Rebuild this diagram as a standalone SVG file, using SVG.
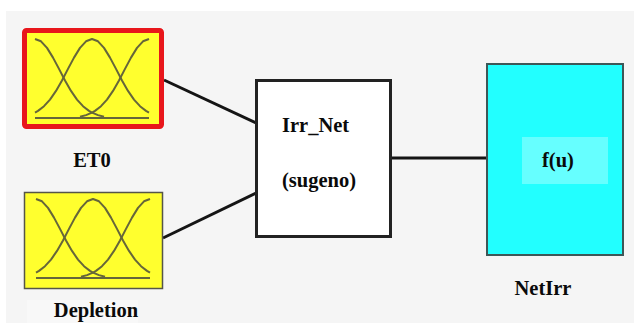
<svg xmlns="http://www.w3.org/2000/svg" width="634" height="323" viewBox="0 0 634 323">
<style>
.lbl{font-family:"Liberation Serif","Times New Roman",serif;font-weight:bold;font-size:20.5px;fill:#0a0a0a}
.mf{fill:none;stroke:#66663a;stroke-width:2;stroke-linejoin:round}
.conn{stroke:#151515;stroke-width:3;fill:none}
</style>
<defs>
<g id="mfs">
<path class="mf" d="M-57,-5.4 L-54,-7.1 L-48,-11.8 L-42,-18.4 L-36,-27.1 L-30,-37.5 L-24,-49.1 L-18,-60.4 L-12,-70.1 L-6,-76.7 L0,-79 L6,-76.7 L12,-70.1 L18,-60.4 L24,-49.1 L30,-37.5 L36,-27.1 L42,-18.4 L48,-11.8 L54,-7.1 L57,-5.4"/>
<path class="mf" d="M-57,-79 L-51,-76.7 L-45,-70.1 L-39,-60.4 L-33,-49.1 L-27,-37.5 L-21,-27.1 L-15,-18.4 L-9,-11.8 L-3,-7.1 L0,-5.4 L6,-2.9 L12,-1.3"/>
<path class="mf" d="M57,-79 L51,-76.7 L45,-70.1 L39,-60.4 L33,-49.1 L27,-37.5 L21,-27.1 L15,-18.4 L9,-11.8 L3,-7.1 L0,-5.4 L-6,-2.9 L-12,-1.3"/>
<path class="mf" d="M-57,0 L57,0" stroke-width="2.5"/>
</g>
</defs>
<rect x="0" y="0" width="634" height="323" fill="#ffffff"/>
<rect x="6" y="11" width="628" height="312" fill="#f5f5f5"/>
<rect x="27" y="300" width="111" height="23" fill="#f8f8f8"/>
<g id="connectors">
<line class="conn" x1="164" y1="80" x2="256" y2="123"/>
<line class="conn" x1="163" y1="238" x2="256" y2="193"/>
<line class="conn" x1="391" y1="158" x2="487" y2="158"/>
</g>
<g id="ET0">
<rect x="24.5" y="30.5" width="137" height="96" rx="2" fill="#ffff2e" stroke="#e8161b" stroke-width="5"/>
<use href="#mfs" transform="translate(92,118)"/>
<text class="lbl" x="92" y="167" text-anchor="middle">ET0</text>
</g>
<g id="Depletion">
<rect x="24.5" y="192.5" width="138" height="96" fill="#ffff2e" stroke="#555548" stroke-width="1.5"/>
<use href="#mfs" transform="translate(93,278)"/>
<text class="lbl" x="96" y="317" text-anchor="middle">Depletion</text>
</g>
<g id="Irr_Net">
<rect x="256.5" y="80.5" width="134" height="156" fill="#ffffff" stroke="#222222" stroke-width="3"/>
<text class="lbl" x="282" y="132">Irr_Net</text>
<text class="lbl" x="282" y="187">(sugeno)</text>
</g>
<g id="NetIrr">
<rect x="487" y="64" width="136" height="191" fill="#22ffff" stroke="#3d5757" stroke-width="2"/>
<rect x="522" y="137" width="86" height="47" fill="#66ffff"/>
<text class="lbl" x="542" y="167">f(u)</text>
<text class="lbl" x="543" y="295" text-anchor="middle">NetIrr</text>
</g>
</svg>
